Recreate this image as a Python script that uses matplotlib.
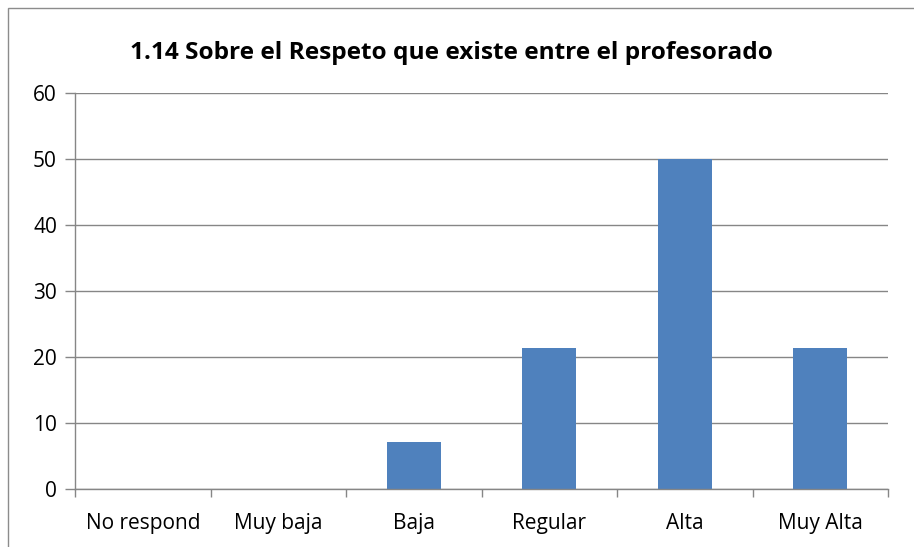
import matplotlib
matplotlib.use("Agg")
import matplotlib.pyplot as plt
from matplotlib.patches import Rectangle
import numpy as np

categories = ["No respond", "Muy baja", "Baja", "Regular", "Alta", "Muy Alta"]
values = [0, 0, 7.14, 21.43, 50.0, 21.43]
yticks = [0, 10, 20, 30, 40, 50, 60]
title = "1.14 Sobre el Respeto que existe entre el profesorado"

plt.rcParams['font.family'] = ['Open Sans', 'DejaVu Sans']

fig = plt.figure(figsize=(9.14, 5.47), dpi=100)
W, H = 914, 547
# outer chart border
fig.patches.append(Rectangle((8 / W, -0.1), 1.2, (H - 8) / H + 0.1, transform=fig.transFigure,
                             fill=False, edgecolor="#8c8c8c", linewidth=1.0))

ax = fig.add_axes([75 / W, 1 - 489 / H, (888 - 75) / W, (489 - 93) / H])
x = np.arange(len(categories))
ax.bar(x, values, width=0.4, color="#4F81BD", zorder=3)
ax.set_xlim(-0.5, len(categories) - 0.5)
ax.set_ylim(0, 60)
ax.set_yticks(yticks)
ax.set_xticks(x)
ax.set_xticklabels(categories)
ax.set_xticks(np.arange(-0.5, len(categories), 1.0), minor=True)
ax.tick_params(axis='x', which='major', length=0, pad=17, labelsize=15, colors="black")
ax.tick_params(axis='x', which='minor', length=6, color="#868686", width=1)
ax.tick_params(axis='y', length=7, color="#868686", width=1, labelsize=15, pad=6)
ax.grid(axis='y', color="#868686", linewidth=1, zorder=0)
for s in ["top", "right"]:
    ax.spines[s].set_visible(False)
for s in ["left", "bottom"]:
    ax.spines[s].set_color("#868686")
    ax.spines[s].set_linewidth(1)
    ax.spines[s].set_zorder(4)

fig.text(451 / W, 1 - 53 / H, title, ha="center", va="center", fontsize=17.6, fontweight="bold")

fig.savefig("out.png", dpi=100)
